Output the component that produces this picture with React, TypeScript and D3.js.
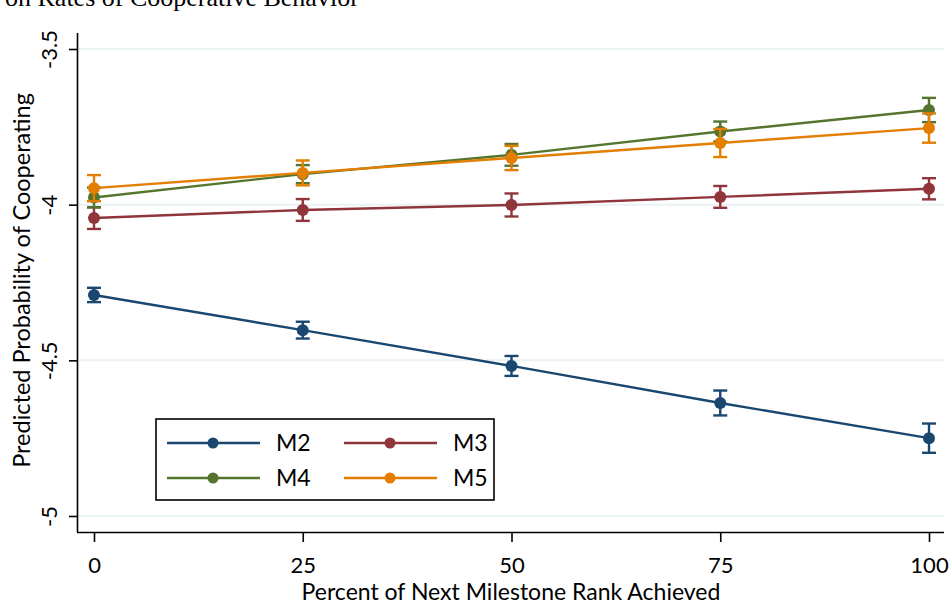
import { useEffect, useRef } from 'react';
import * as d3 from 'd3';

const xValues = [0, 25, 50, 75, 100];
const seriesNames = ['M2', 'M3', 'M4', 'M5'];
const m2 = [-4.29, -4.403, -4.518, -4.637, -4.75];
const m3 = [-4.043, -4.017, -4.001, -3.975, -3.949];
const m4 = [-3.977, -3.902, -3.84, -3.765, -3.696];
const m5 = [-3.947, -3.898, -3.85, -3.802, -3.754];
const m2Ci = [0.023, 0.027, 0.032, 0.04, 0.047];
const m3Ci = [0.035, 0.035, 0.037, 0.035, 0.034];
const m4Ci = [0.032, 0.029, 0.035, 0.032, 0.039];
const m5Ci = [0.042, 0.04, 0.039, 0.045, 0.047];
const yTicks = [-5, -4.5, -4, -3.5];
const yTickLabels = ['-5', '-4.5', '-4', '-3.5'];
const colors = ['#1a476f', '#90353b', '#55752f', '#e37e00'];

const FONT = 'Lato, sans-serif';

const App = () => {
  const svgRef = useRef<SVGSVGElement>(null);

  useEffect(() => {
    const width = 952;
    const height = 607;
    const svg = d3.select(svgRef.current).attr('width', width).attr('height', height);
    svg.selectAll('*').remove();

    const x = d3.scaleLinear().domain([0, 100]).range([94, 929]);
    const y = d3.scaleLinear().domain([-5, -3.5]).range([516, 49]);
    const left = 78;
    const right = 944;
    const bottom = 532;
    const top = 33;

    // caption of the page, cut off by the crop
    svg
      .append('text')
      .attr('x', 5)
      .attr('y', 6)
      .style('font-family', '"Liberation Serif", serif')
      .style('font-size', '26px')
      .text('on Rates of Cooperative Behavior');

    // gridlines
    svg
      .selectAll('line.grid')
      .data(yTicks)
      .enter()
      .append('line')
      .attr('x1', left)
      .attr('x2', right)
      .attr('y1', (d) => y(d))
      .attr('y2', (d) => y(d))
      .attr('stroke', '#eaf2f3')
      .attr('stroke-width', 2);

    // axes
    const yAxis = d3.axisLeft(y).tickValues(yTicks).tickSize(9).tickFormat((d, i) => yTickLabels[i]);
    const gy = svg.append('g').attr('transform', `translate(${left},0)`).call(yAxis);
    gy.select('.domain').attr('d', `M-0.5,${top}V${bottom}`).attr('stroke', '#000').attr('stroke-width', 1.6);
    gy.selectAll('.tick line').attr('stroke', '#000').attr('stroke-width', 1.6);
    gy.selectAll('.tick text')
      .attr('x', null)
      .attr('dy', null)
      .attr('transform', 'translate(-21,0) rotate(-90)')
      .attr('text-anchor', 'middle')
      .style('font-family', FONT)
      .style('font-size', '22px')
      .attr('fill', '#000');

    const xAxis = d3.axisBottom(x).tickValues(xValues).tickSize(10).tickFormat(d3.format('d'));
    const gx = svg.append('g').attr('transform', `translate(0,${bottom})`).call(xAxis);
    gx.select('.domain').attr('d', `M${left - 1},0.5H${right}`).attr('stroke', '#000').attr('stroke-width', 1.6);
    gx.selectAll('.tick line').attr('stroke', '#000').attr('stroke-width', 1.6);
    gx.selectAll('.tick text')
      .attr('y', 41)
      .attr('dy', null)
      .style('font-family', FONT)
      .style('font-size', '22px')
      .attr('fill', '#000');

    // axis titles
    svg
      .append('text')
      .attr('transform', `translate(30,${(top + bottom) / 2 - 2}) rotate(-90)`)
      .attr('text-anchor', 'middle')
      .style('font-family', FONT)
      .style('font-size', '23.5px')
      .text('Predicted Probability of Cooperating');
    svg
      .append('text')
      .attr('x', 511)
      .attr('y', 600)
      .attr('text-anchor', 'middle')
      .style('font-family', FONT)
      .style('font-size', '23px')
      .text('Percent of Next Milestone Rank Achieved');

    const series = [m2, m3, m4, m5].map((vals, i) => ({
      name: seriesNames[i],
      color: colors[i],
      points: vals.map((v, j) => ({ x: xValues[j], v, ci: [m2Ci, m3Ci, m4Ci, m5Ci][i][j] })),
    }));

    const line = d3
      .line<{ x: number; v: number }>()
      .x((d) => x(d.x))
      .y((d) => y(d.v));

    const g = svg.append('g');
    series.forEach((s) => {
      const sg = g.append('g');
      sg.append('path').attr('d', line(s.points)).attr('fill', 'none').attr('stroke', s.color).attr('stroke-width', 2.4);
      const eb = sg.selectAll('g.eb').data(s.points).enter().append('g');
      eb.append('line')
        .attr('x1', (d) => x(d.x))
        .attr('x2', (d) => x(d.x))
        .attr('y1', (d) => y(d.v - d.ci))
        .attr('y2', (d) => y(d.v + d.ci))
        .attr('stroke', s.color)
        .attr('stroke-width', 2.4);
      [1, -1].forEach((sgn) => {
        eb.append('line')
          .attr('x1', (d) => x(d.x) - 7)
          .attr('x2', (d) => x(d.x) + 7)
          .attr('y1', (d) => y(d.v + sgn * d.ci))
          .attr('y2', (d) => y(d.v + sgn * d.ci))
          .attr('stroke', s.color)
          .attr('stroke-width', 2.4);
      });
      eb.append('circle')
        .attr('cx', (d) => x(d.x))
        .attr('cy', (d) => y(d.v))
        .attr('r', 6)
        .attr('fill', s.color);
    });

    // legend
    const lg = svg.append('g');
    lg.append('rect')
      .attr('x', 156)
      .attr('y', 419)
      .attr('width', 338)
      .attr('height', 81)
      .attr('fill', '#fff')
      .attr('stroke', '#000')
      .attr('stroke-width', 1.6);
    series.forEach((s, i) => {
      const cx = i % 2 === 0 ? 167 : 344;
      const cy = i < 2 ? 443 : 478;
      lg.append('line').attr('x1', cx).attr('x2', cx + 93).attr('y1', cy).attr('y2', cy).attr('stroke', s.color).attr('stroke-width', 2.4);
      lg.append('circle').attr('cx', cx + 46).attr('cy', cy).attr('r', 5.5).attr('fill', s.color);
      lg.append('text')
        .attr('x', cx + 109)
        .attr('y', cy)
        .attr('dy', '0.36em')
        .style('font-family', FONT)
        .style('font-size', '23px')
        .text(s.name);
    });
  }, []);

  return (
    <div style={{ position: 'absolute', left: 0, top: 0, background: '#fff' }}>
      <svg ref={svgRef} style={{ display: 'block' }}></svg>
    </div>
  );
};

export default App;
